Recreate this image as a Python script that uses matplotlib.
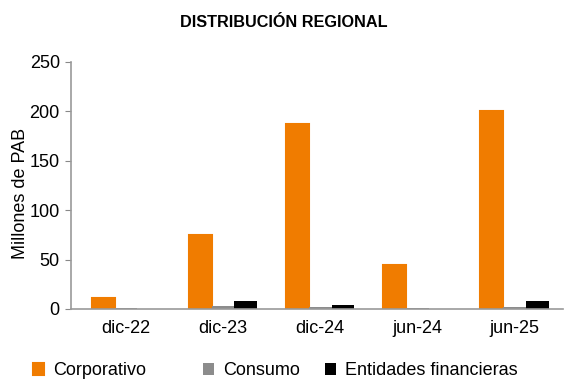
import matplotlib.pyplot as plt
import numpy as np

plt.rcParams['font.family'] = ['Liberation Sans', 'DejaVu Sans']

categories = ["dic-22", "dic-23", "dic-24", "jun-24", "jun-25"]
corporativo = [11, 75, 187, 44.5, 200]
consumo = [0.5, 2.5, 1.5, 0.8, 2.0]
entidades = [0.0, 8, 4, 0.0, 8]

fs = 13
fig = plt.figure(figsize=(5.67, 3.8), dpi=100)
ax = fig.add_axes([0.125, 0.187, 0.868, 0.65])

x = np.arange(len(categories))
w = 0.235
b1 = ax.bar(x - w, corporativo, w, color="#F07C00", edgecolor="#F07C00", linewidth=1.5,
            label="Corporativo")
b2 = ax.bar(x, consumo, w, color="#8C8C8C", label="Consumo")
b3 = ax.bar(x + w, entidades, w, color="#000000", label="Entidades financieras")

ax.set_xlim(-0.567, 4.5)
ax.set_ylim(0, 250)
ax.set_yticks(range(0, 251, 50))
ax.set_xticks(x)
ax.set_xticklabels(categories)
ax.tick_params(axis="x", length=0, labelsize=fs, pad=8)
ax.tick_params(axis="y", length=4, color="#888888", labelsize=fs, pad=4)
ax.set_ylabel("Millones de PAB", fontsize=fs)
ax.yaxis.set_label_coords(-0.085, 0.466)

for s in ["top", "right"]:
    ax.spines[s].set_visible(False)
for s in ["left", "bottom"]:
    ax.spines[s].set_color("#999999")
    ax.spines[s].set_linewidth(1.2)

fig.suptitle("DISTRIBUCIÓN REGIONAL", fontsize=11.7, fontweight="bold", y=0.96)

# legend entries sit in fixed slots, like the original
for h, lab, xpos in [(b1, "Corporativo", 33), (b2, "Consumo", 203),
                     (b3, "Entidades financieras", 325)]:
    fig.legend([h], [lab], loc="center left", bbox_to_anchor=(xpos / 567, 0.024),
               frameon=False, fontsize=fs, handlelength=0.6, handleheight=0.6,
               handletextpad=0.5, borderpad=0, borderaxespad=0)

fig.savefig("out.png", dpi=100)
